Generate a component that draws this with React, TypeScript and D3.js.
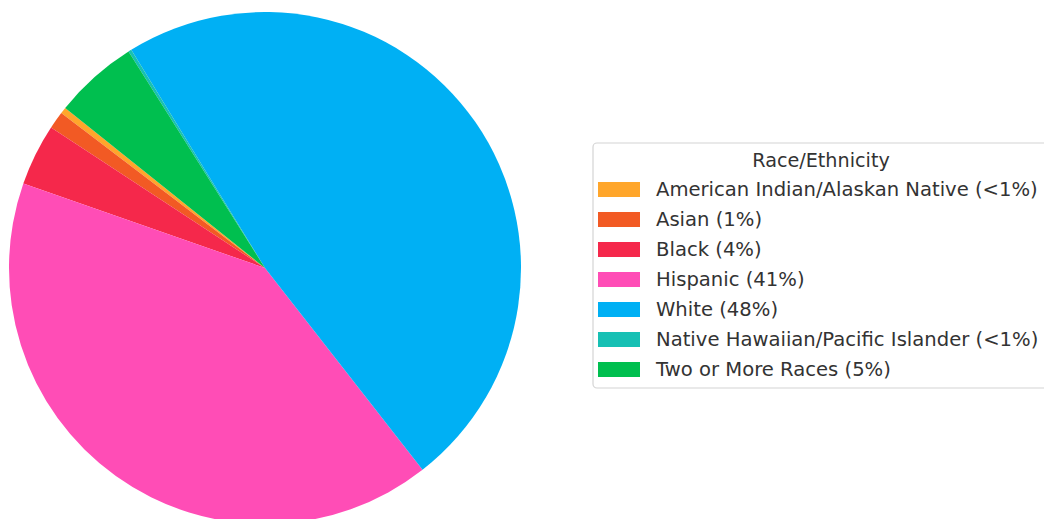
import React from "react";
import * as d3 from "d3";

const categories = [
  "American Indian/Alaskan Native",
  "Asian",
  "Black",
  "Hispanic",
  "White",
  "Native Hawaiian/Pacific Islander",
  "Two or More Races",
];
const values = [0.4, 1.1, 3.9, 40.9, 48.2, 0.2, 5.3];
const legendLabels = [
  "American Indian/Alaskan Native (<1%)",
  "Asian (1%)",
  "Black (4%)",
  "Hispanic (41%)",
  "White (48%)",
  "Native Hawaiian/Pacific Islander (<1%)",
  "Two or More Races (5%)",
];
const colors = ["#FFA62B", "#F25A24", "#F5284B", "#FF4DB6", "#00B0F4", "#17C0B4", "#00BF4F"];
const legendTitle = "Race/Ethnicity";

const W = 1044;
const H = 519;
const cx = 265;
const cy = 268;
const R = 256;
const startDeg = 141.3; // math angle (CCW from east) where first slice begins

export default function App() {
  const start = ((90 - startDeg) * Math.PI) / 180;
  const pie = d3
    .pie<number>()
    .sort(null)
    .startAngle(start)
    .endAngle(start - 2 * Math.PI);
  const arcs = pie(values);
  const arc = d3.arc<d3.PieArcDatum<number>>().innerRadius(0).outerRadius(R);

  const lx = 593;
  const ly = 143;
  const rowY = (i: number) => ly + 46 + i * 30;

  return (
    <svg
      width={W}
      height={H}
      style={{ position: "absolute", left: 0, top: 0, background: "#fff" }}
      fontFamily="DejaVu Sans, sans-serif"
    >
      <g transform={`translate(${cx},${cy})`}>
        {arcs.map((a, i) => (
          <path key={categories[i]} d={arc(a) || ""} fill={colors[i]} />
        ))}
      </g>
      <rect
        x={lx}
        y={ly}
        width={460}
        height={245}
        rx={4}
        fill="#fff"
        stroke="#d4d4d4"
        strokeWidth={1.2}
      />
      <text x={821} y={ly + 24} textAnchor="middle" fontSize={19.2} fill="#333">
        {legendTitle}
      </text>
      {legendLabels.map((t, i) => (
        <g key={t}>
          <rect x={598} y={rowY(i) - 7} width={42} height={15} fill={colors[i]} />
          <text x={656} y={rowY(i) + 7} fontSize={19.6} fill="#333">
            {t}
          </text>
        </g>
      ))}
    </svg>
  );
}
